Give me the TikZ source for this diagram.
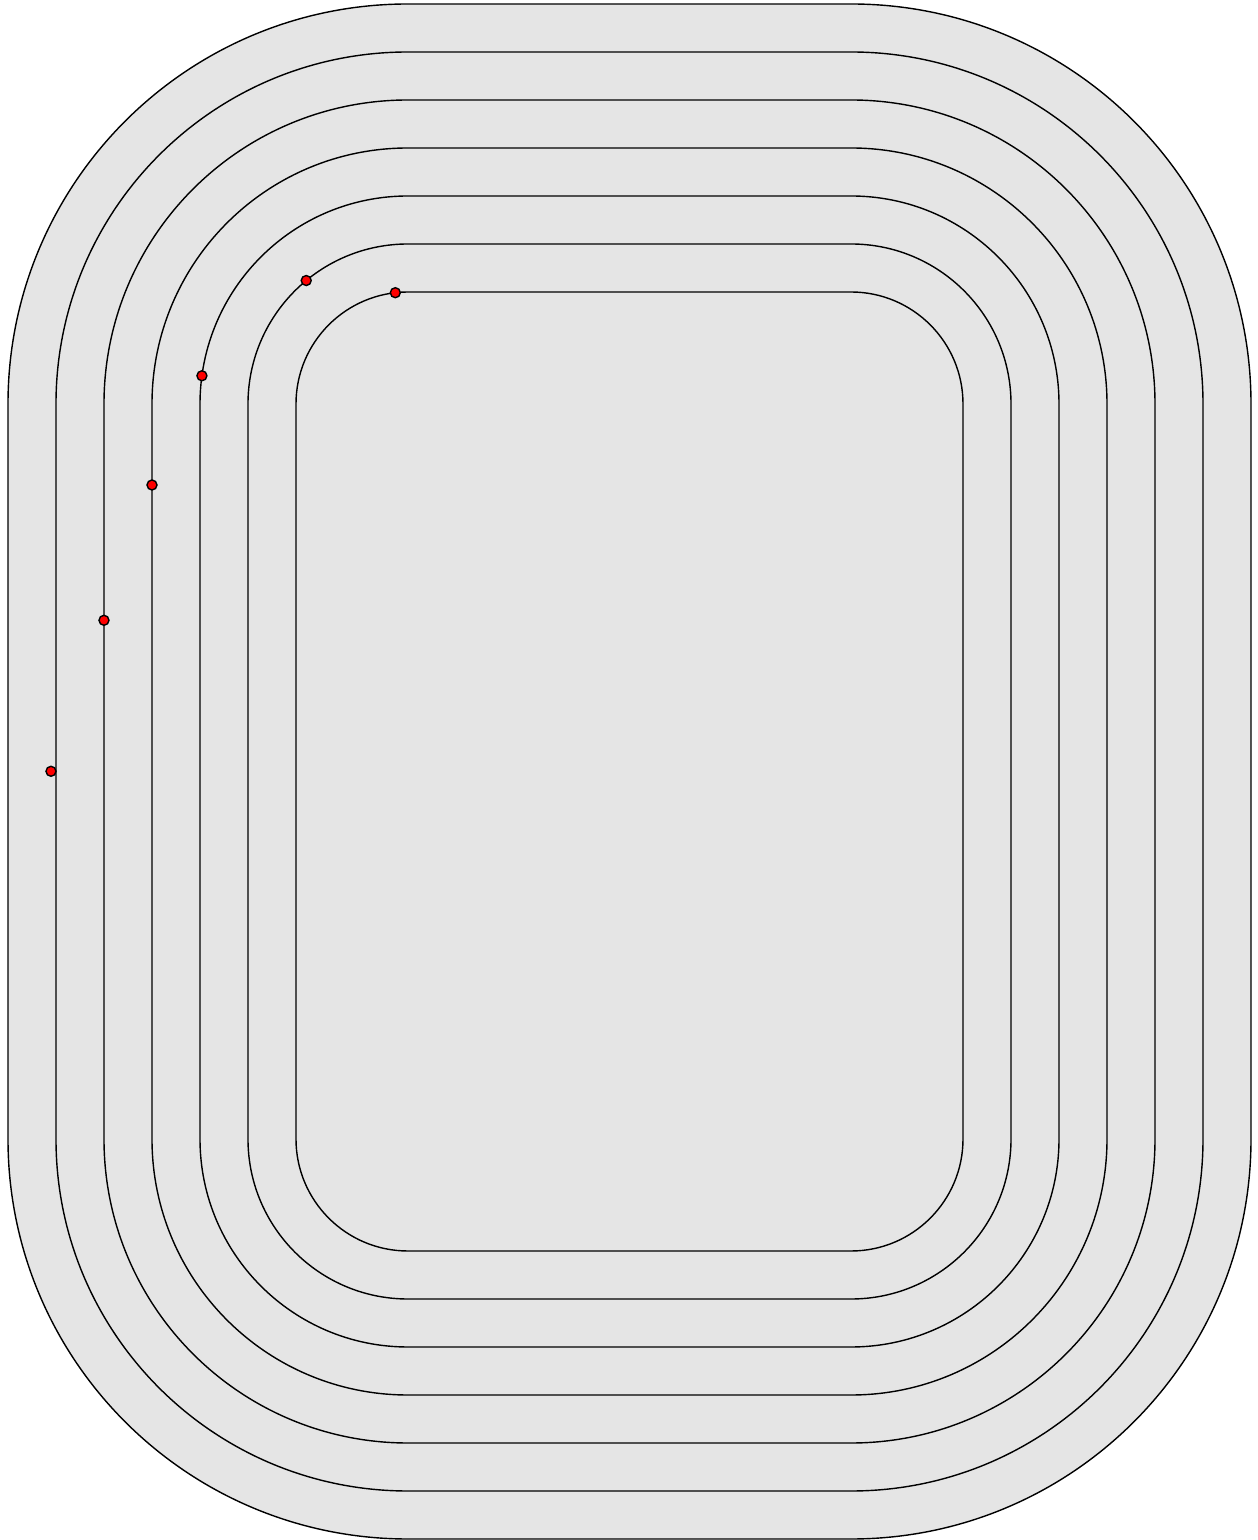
\documentclass[tikz,border=0pt]{standalone}
\usepackage{tikz}
\usetikzlibrary{positioning}

\tikzset{
  lane/.style={draw=black, fill=gray!20, line width=0.4pt},
  startdot/.style={circle, draw=black, fill=red, inner sep=0pt, minimum size=0.1cm, line width=0.4pt}
}

\begin{document}
\begin{tikzpicture}[x=0.01cm, y=0.01cm]
\useasboundingbox (-629.5,-768.5) rectangle (627.5,771.5);
% lanes, outer to inner
\foreach \r in {400,352,...,112} {
  \pgfmathsetmacro{\rad}{\r*0.01}
  \draw[lane, rounded corners=\rad cm] (-221.5-\r,-367.5-\r) rectangle (221.5+\r,367.5+\r);
}
% staggered starts
\node[startdot] (s1) at ([shift={(-221.5,367.5)}]96.5:112) {};
\node[startdot] (s2) at ([shift={(-221.5,367.5)}]129.5:160) {};
\node[startdot] (s3) at ([shift={(-221.5,367.5)}]172.2:208) {};
\node[startdot] (s4) at (-477.5,286.5) {};
\node[startdot] (s5) at (-525.5,151.2) {};
\node[startdot] (s6) at (-578.5,0.2) {};
\end{tikzpicture}
\end{document}
